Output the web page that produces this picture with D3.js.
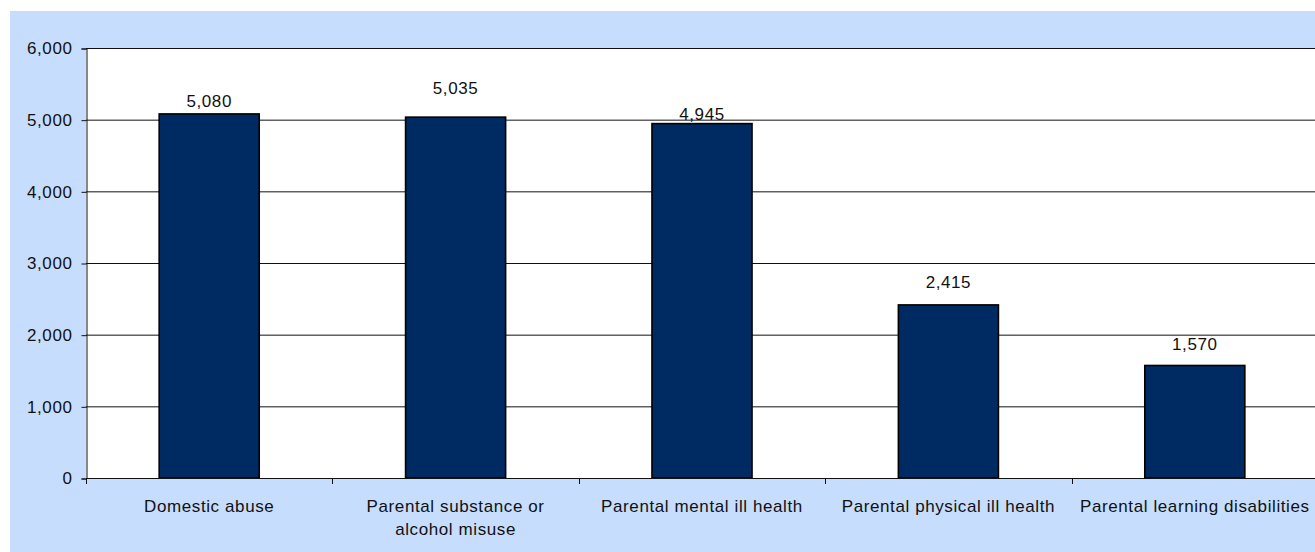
<!DOCTYPE html>
<html>
<head>
<meta charset="utf-8">
<script src="https://cdnjs.cloudflare.com/ajax/libs/d3/7.8.5/d3.min.js"></script>
<style>
  body { margin: 0; background: #fff; }
  svg text { font-family: "Liberation Sans", Arial, sans-serif; fill: #111; letter-spacing: 0.6px; }
</style>
</head>
<body>
<svg width="1315" height="552"></svg>
<script>
// data
var categories = ["Domestic abuse", "Parental substance or alcohol misuse", "Parental mental ill health",
                  "Parental physical ill health", "Parental learning disabilities"];
var values = [5080, 5035, 4945, 2415, 1570];
var yTicks = [0, 1000, 2000, 3000, 4000, 5000, 6000];

// how far each value label's baseline sits above its bar (Excel placed them unevenly)
var labelLift = [7, 23, 4, 17, 15];

var svg = d3.select("svg"),
    plotLeft = 86, plotTop = 48, plotBottom = 478,
    band = 246.4,
    plotRight = plotLeft + band * categories.length;

svg.append("rect")
    .attr("x", 10).attr("y", 11)
    .attr("width", 1305).attr("height", 541)
    .attr("fill", "#c6ddfd");

svg.append("rect")
    .attr("x", plotLeft).attr("y", plotTop)
    .attr("width", plotRight - plotLeft).attr("height", plotBottom - plotTop)
    .attr("fill", "#fff");

var x = d3.scaleBand().domain(categories).range([plotLeft, plotRight]).paddingInner(0.594).paddingOuter(0.297);
var y = d3.scaleLinear().domain([0, 6000]).range([plotBottom, plotTop]);

// gridlines
svg.append("g").selectAll("line")
    .data(yTicks.slice(1))
    .enter().append("line")
        .attr("x1", plotLeft).attr("x2", plotRight)
        .attr("y1", function(d) { return y(d) + 0.5; })
        .attr("y2", function(d) { return y(d) + 0.5; })
        .attr("stroke", "#111")
        .attr("stroke-width", 1);

// y axis
var yAxis = svg.append("g")
    .attr("transform", "translate(" + (plotLeft + 0.5) + ",0.5)")
    .call(d3.axisLeft(y).tickValues(yTicks).tickSize(5).tickPadding(9).tickFormat(d3.format(",")));
yAxis.select(".domain").attr("stroke", "#111");
yAxis.selectAll(".tick line").attr("stroke", "#111");
yAxis.selectAll("text").style("font-size", "17px").attr("fill", "#111").attr("font-family", null);

// bars
svg.append("g").selectAll("rect")
    .data(values)
    .enter().append("rect")
        .attr("x", function(d, i) { return x(categories[i]); })
        .attr("y", function(d) { return y(d); })
        .attr("width", x.bandwidth())
        .attr("height", function(d) { return y(0) - y(d); })
        .attr("fill", "#002a62")
        .attr("stroke", "#000")
        .attr("stroke-width", 1.6);

// value labels
svg.append("g").selectAll("text")
    .data(values)
    .enter().append("text")
        .attr("x", function(d, i) { return x(categories[i]) + x.bandwidth() / 2; })
        .attr("y", function(d, i) { return y(d) - labelLift[i]; })
        .attr("text-anchor", "middle")
        .style("font-size", "17px")
        .text(function(d) { return d3.format(",")(d); });

// x axis
svg.append("line")
    .attr("x1", plotLeft).attr("x2", plotRight)
    .attr("y1", plotBottom + 0.5).attr("y2", plotBottom + 0.5)
    .attr("stroke", "#111");

svg.append("g").selectAll("line")
    .data(d3.range(categories.length + 1))
    .enter().append("line")
        .attr("x1", function(i) { return Math.round(plotLeft + i * band) + 0.5; })
        .attr("x2", function(i) { return Math.round(plotLeft + i * band) + 0.5; })
        .attr("y1", plotBottom).attr("y2", plotBottom + 6)
        .attr("stroke", "#111");

var wrapped = {"Parental substance or alcohol misuse": ["Parental substance or", "alcohol misuse"]};

svg.append("g").selectAll("text")
    .data(categories)
    .enter().append("text")
        .attr("x", function(d) { return x(d) + x.bandwidth() / 2; })
        .attr("y", 512)
        .attr("text-anchor", "middle")
        .style("font-size", "17px")
        .each(function(d) {
            var lines = wrapped[d] || [d];
            var t = d3.select(this);
            lines.forEach(function(s, j) {
                t.append("tspan")
                    .attr("x", t.attr("x"))
                    .attr("dy", j ? 22.5 : 0)
                    .text(s);
            });
        });
</script>
</body>
</html>
